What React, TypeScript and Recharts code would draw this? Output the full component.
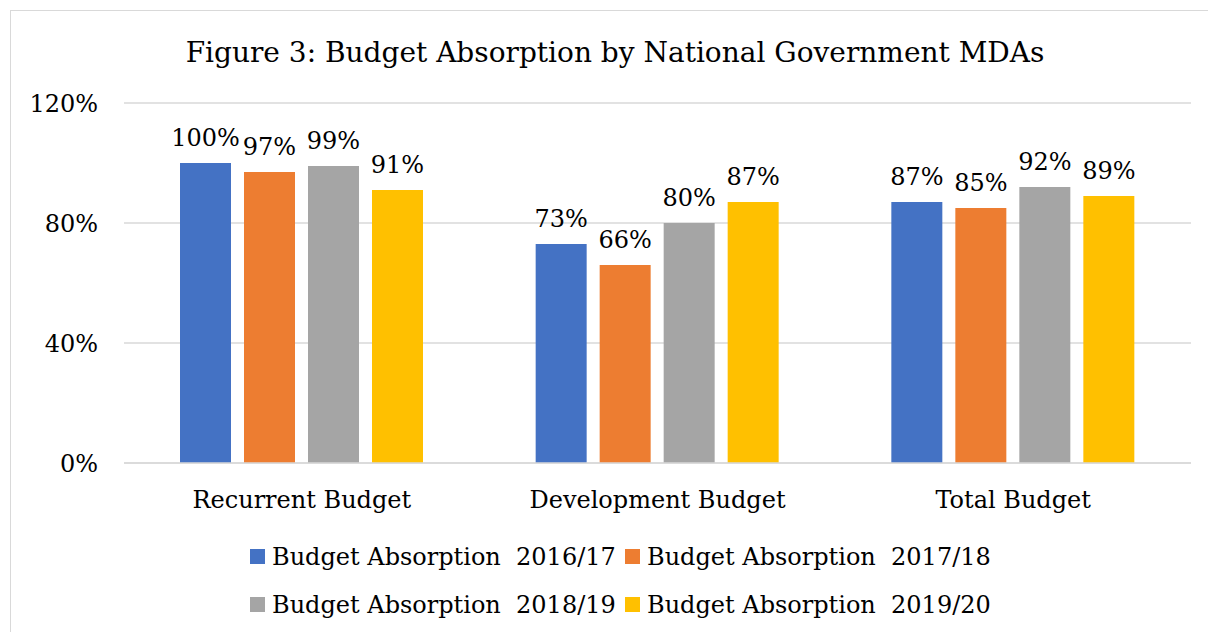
import React from "react";
import { BarChart, Bar, XAxis, YAxis, CartesianGrid, LabelList, Legend } from "recharts";

const categories = ["Recurrent Budget", "Development Budget", "Total Budget"];
const series2016 = [100, 73, 87];
const series2017 = [97, 66, 85];
const series2018 = [99, 80, 92];
const series2019 = [91, 87, 89];
const seriesNames = [
  "Budget Absorption  2016/17",
  "Budget Absorption  2017/18",
  "Budget Absorption  2018/19",
  "Budget Absorption  2019/20",
];
const seriesColors = ["#4472C4", "#ED7D31", "#A5A5A5", "#FFC000"];
const yTicks = [0, 40, 80, 120];
const title = "Figure 3: Budget Absorption by National Government MDAs";

const data = categories.map((name, i) => ({
  name,
  s0: series2016[i],
  s1: series2017[i],
  s2: series2018[i],
  s3: series2019[i],
}));

const FONT = "'DejaVu Serif', serif";
const pct = (v: any) => `${v}%`;

const LegendContent = (props: any) => {
  const payload = props.payload || [];
  return (
    <svg width={1208} height={100} style={{ display: "block" }}>
      {payload.map((p: any, i: number) => {
        const col = i % 2;
        const row = Math.floor(i / 2);
        const x = 250 + col * 375;
        const y = 19 + row * 48;
        return (
          <g key={i}>
            <rect x={x} y={y} width={15} height={15} fill={p.color} />
            <text
              x={x + 22}
              y={y + 16}
              fontFamily={FONT}
              fontSize={24}
              fill="#000"
              style={{ whiteSpace: "pre" }}
            >
              {p.value}
            </text>
          </g>
        );
      })}
    </svg>
  );
};

export default function App() {
  return (
    <div
      style={{
        position: "absolute",
        left: 0,
        top: 0,
        width: 1208,
        height: 632,
        overflow: "hidden",
        background: "#fff",
      }}
    >
      <div
        style={{
          position: "absolute",
          left: 10,
          top: 10,
          width: 1220,
          height: 650,
          border: "1.5px solid #d9d9d9",
        }}
      />
      <svg
        width={1208}
        height={80}
        style={{ position: "absolute", left: 0, top: 0 }}
      >
        <text
          x={615}
          y={62}
          textAnchor="middle"
          fontFamily={FONT}
          fontSize={28}
          fill="#000"
        >
          {title}
        </text>
      </svg>
      <div style={{ position: "absolute", left: 0, top: 0 }}>
        <BarChart
          width={1208}
          height={632}
          data={data}
          margin={{ top: 103, right: 17, left: 0, bottom: 129 }}
          barGap={13}
          barSize={51}
        >
          <CartesianGrid
            vertical={false}
            stroke="#d9d9d9"
            strokeWidth={1.5}
          />
          <XAxis
            dataKey="name"
            axisLine={{ stroke: "#d9d9d9", strokeWidth: 1.5 }}
            tickLine={false}
            tickSize={0}
            tickMargin={28}
            height={40}
            tick={{ fontFamily: FONT, fontSize: 24, fill: "#000" }}
          />
          <YAxis
            domain={[0, 120]}
            ticks={yTicks}
            tickFormatter={pct}
            axisLine={false}
            tickLine={false}
            tickSize={0}
            tickMargin={26}
            width={124}
            tick={{ fontFamily: FONT, fontSize: 24, fill: "#000" }}
          />
          <Legend
            layout="horizontal"
            verticalAlign="middle"
            align="center"
            wrapperStyle={{ left: 0, top: 530, width: 1208 }}
            content={LegendContent}
          />
          {["s0", "s1", "s2", "s3"].map((k, i) => (
            <Bar
              key={k}
              dataKey={k}
              name={seriesNames[i]}
              fill={seriesColors[i]}
              isAnimationActive={false}
            >
              <LabelList
                dataKey={k}
                position="top"
                offset={17}
                formatter={pct}
                style={{ fontFamily: FONT, fontSize: 24, fill: "#000" }}
              />
            </Bar>
          ))}
        </BarChart>
      </div>
    </div>
  );
}
